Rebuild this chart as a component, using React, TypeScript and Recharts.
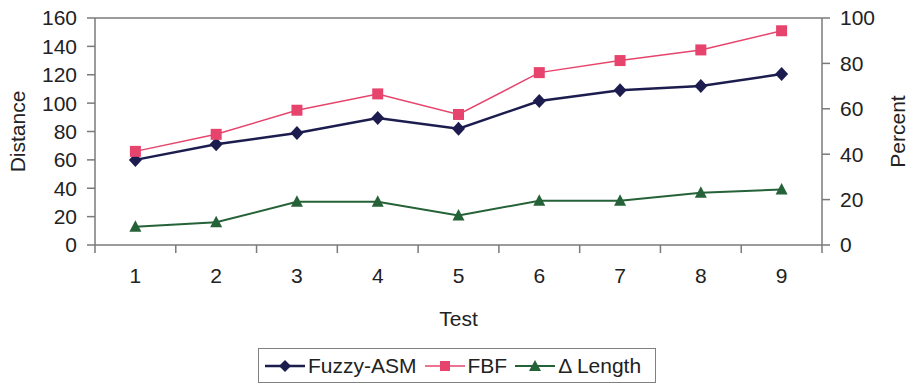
import React from "react";
import { LineChart, Line, XAxis, YAxis, Legend, ReferenceLine } from "recharts";

const tests = [1, 2, 3, 4, 5, 6, 7, 8, 9];
const fuzzyAsm = [60, 71, 79, 89.5, 82, 101.5, 109, 112, 120.5];
const fbf = [66, 78, 95, 106.5, 92, 121.5, 130, 137.5, 151];
const deltaLength = [8, 10, 19, 19, 13, 19.5, 19.5, 23, 24.5];
const leftTicks = [0, 20, 40, 60, 80, 100, 120, 140, 160];
const rightTicks = [0, 20, 40, 60, 80, 100];

const data = tests.map((t, i) => ({
  test: t,
  asm: fuzzyAsm[i],
  fbf: fbf[i],
  delta: deltaLength[i],
}));

const xBoundaries = [tests[0] - 0.5, ...tests.map((t) => t + 0.5)];
const xTicks = [...xBoundaries, ...tests].sort((a, b) => a - b);

const C_ASM = "#1c1d4e";
const C_FBF = "#e6446c";
const C_DELTA = "#256238";
const AXIS = "#7a7a7a";
const TEXT = "#222";
const FONT = "'Liberation Sans', Arial, sans-serif";
const FS = 21;

const Diamond = (props: any) => {
  const { cx, cy, fill, index } = props;
  if (cx == null || cy == null) return <g key={`d${index}`} />;
  return (
    <polygon
      key={`d${index}`}
      points={`${cx},${cy - 7} ${cx + 6.5},${cy} ${cx},${cy + 7} ${cx - 6.5},${cy}`}
      fill={fill}
    />
  );
};
const Square = (props: any) => {
  const { cx, cy, fill, index } = props;
  if (cx == null || cy == null) return <g key={`s${index}`} />;
  return <rect key={`s${index}`} x={cx - 5.5} y={cy - 5.5} width={11} height={11} fill={fill} />;
};
const Triangle = (props: any) => {
  const { cx, cy, fill, index } = props;
  if (cx == null || cy == null) return <g key={`t${index}`} />;
  return (
    <polygon
      key={`t${index}`}
      points={`${cx},${cy - 6.5} ${cx + 6},${cy + 5} ${cx - 6},${cy + 5}`}
      fill={fill}
    />
  );
};

const XTick = (props: any) => {
  const { x, y, payload } = props;
  const v = payload.value;
  if (Number.isInteger(v)) {
    return (
      <text x={x} y={y + 22} textAnchor="middle" dominantBaseline="central" fill={TEXT} fontSize={FS} fontFamily={FONT}>
        {v}
      </text>
    );
  }
  return <line x1={x} x2={x} y1={y - 8} y2={y} stroke={AXIS} strokeWidth={1.5} />;
};

const legendItems = [
  { name: "Fuzzy-ASM", color: C_ASM, shape: "diamond", lw: 2.5 },
  { name: "FBF", color: C_FBF, shape: "square", lw: 1.5 },
  { name: "\u0394 Length", color: C_DELTA, shape: "triangle", lw: 2 },
];

const LegendIcon = ({ color, shape, lw }: any) => (
  <svg width={40} height={16} style={{ display: "block" }}>
    <line x1={0} x2={40} y1={8} y2={8} stroke={color} strokeWidth={lw} />
    {shape === "diamond" && <polygon points="20,2 26,8 20,14 14,8" fill={color} />}
    {shape === "square" && <rect x={15} y={3} width={10} height={10} fill={color} />}
    {shape === "triangle" && <polygon points="20,2 26,13 14,13" fill={color} />}
  </svg>
);

const LegendContent = () => (
  <div
    style={{
      boxSizing: "border-box",
      width: 398,
      height: 35,
      border: "1.5px solid #808080",
      display: "flex",
      alignItems: "center",
      paddingLeft: 6,
      fontFamily: FONT,
      fontSize: FS,
      color: TEXT,
      background: "#fff",
    }}
  >
    {legendItems.map((it, i) => (
      <div key={it.name} style={{ display: "flex", alignItems: "center", marginRight: i < 2 ? 8 : 0 }}>
        <LegendIcon color={it.color} shape={it.shape} lw={it.lw} />
        <span style={{ marginLeft: 3, whiteSpace: "nowrap" }}>{it.name}</span>
      </div>
    ))}
  </div>
);

export default function App() {
  return (
    <div style={{ position: "absolute", left: 0, top: 0, width: 914, height: 389, background: "#fff" }}>
      <LineChart width={914} height={389} data={data} margin={{ top: 18, right: 0, bottom: 0, left: 0 }}>
        <XAxis
          dataKey="test"
          type="number"
          domain={[xBoundaries[0], xBoundaries[xBoundaries.length - 1]]}
          ticks={xTicks}
          interval={0}
          height={144}
          tickSize={8}
          tickMargin={0}
          tickLine={false}
          tick={<XTick />}
          stroke={AXIS}
          strokeWidth={1.5}
          label={(p: any) => {
            const vb = p.viewBox;
            return (
              <text x={vb.x + vb.width / 2} y={vb.y + 73} textAnchor="middle" dominantBaseline="central" fill={TEXT} fontSize={FS} fontFamily={FONT}>
                Test
              </text>
            );
          }}
        />
        <YAxis
          yAxisId="left"
          orientation="left"
          width={95}
          domain={[0, 160]}
          ticks={leftTicks}
          interval={0}
          tickSize={8}
          tickMargin={10}
          stroke={AXIS}
          strokeWidth={1.5}
          tick={{ fill: TEXT, fontSize: FS, fontFamily: FONT }}
          label={(p: any) => {
            const vb = p.viewBox;
            const cx = vb.x + 17;
            const cy = vb.y + vb.height / 2;
            return (
              <text x={cx} y={cy} transform={`rotate(-90 ${cx} ${cy})`} textAnchor="middle" dominantBaseline="central" fill={TEXT} fontSize={FS} fontFamily={FONT}>
                Distance
              </text>
            );
          }}
        />
        <YAxis
          yAxisId="right"
          orientation="right"
          width={92}
          domain={[0, 100]}
          ticks={rightTicks}
          interval={0}
          tickSize={8}
          tickMargin={10}
          stroke={AXIS}
          strokeWidth={1.5}
          tick={{ fill: TEXT, fontSize: FS, fontFamily: FONT }}
          label={(p: any) => {
            const vb = p.viewBox;
            const cx = vb.x + 75;
            const cy = vb.y + vb.height / 2;
            return (
              <text x={cx} y={cy} transform={`rotate(-90 ${cx} ${cy})`} textAnchor="middle" dominantBaseline="central" fill={TEXT} fontSize={FS} fontFamily={FONT}>
                Percent
              </text>
            );
          }}
        />
        <ReferenceLine yAxisId="left" y={160} stroke={AXIS} strokeWidth={1.5} />
        <Line
          yAxisId="left"
          dataKey="asm"
          name="Fuzzy-ASM"
          type="linear"
          stroke={C_ASM}
          strokeWidth={2.5}
          fill={C_ASM}
          dot={(p: any) => <Diamond {...p} fill={C_ASM} />}
          isAnimationActive={false}
        />
        <Line
          yAxisId="left"
          dataKey="fbf"
          name="FBF"
          type="linear"
          stroke={C_FBF}
          strokeWidth={1.5}
          fill={C_FBF}
          dot={(p: any) => <Square {...p} fill={C_FBF} />}
          isAnimationActive={false}
        />
        <Line
          yAxisId="right"
          dataKey="delta"
          name={"\u0394 Length"}
          type="linear"
          stroke={C_DELTA}
          strokeWidth={2}
          fill={C_DELTA}
          dot={(p: any) => <Triangle {...p} fill={C_DELTA} />}
          isAnimationActive={false}
        />
        <Legend
          layout="horizontal"
          verticalAlign="middle"
          align="center"
          content={<LegendContent />}
          wrapperStyle={{ left: 258, top: 348, width: 398, height: 35 }}
        />
      </LineChart>
    </div>
  );
}
